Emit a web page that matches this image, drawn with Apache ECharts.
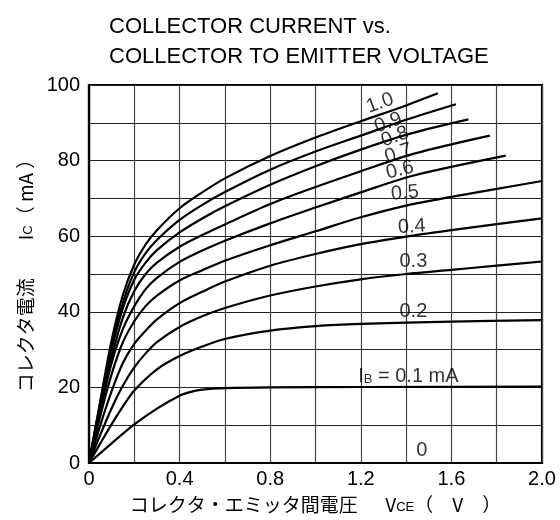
<!DOCTYPE html>
<html><head><meta charset="utf-8">
<script src="https://cdn.jsdelivr.net/npm/echarts@6/dist/echarts.min.js"></script>
<style>html,body{margin:0;padding:0;background:#fff}#c{width:560px;height:520px}</style>
</head><body><div id="c"></div>
<script>
// Base current levels (mA)
const ibLevels = ['0', '0.1', '0.2', '0.3', '0.4', '0.5', '0.6', '0.7', '0.8', '0.9', '1.0'];
// Vce (V) / Ic (mA) pairs for each base current
const curve_00 = [[0,0],[2.0,0]];
const curve_01 = [[0,0],[0.1,5.2],[0.2,10.2],[0.3,14.4],[0.4,17.8],[0.45,18.8],[0.5,19.4],[0.6,19.8],[0.8,20.0],[1.2,20.1],[2.0,20.2]];
const curve_02 = [[0,0],[0.05,5.2],[0.1,10.3],[0.15,15],[0.2,19.2],[0.3,24.8],[0.4,28.3],[0.5,30.8],[0.6,32.8],[0.8,35],[1.0,36.2],[1.2,36.8],[1.6,37.4],[2.0,37.8]];
const curve_03 = [[0,0],[0.05,7.5],[0.1,14.5],[0.15,20.5],[0.2,25.3],[0.25,29],[0.3,32],[0.4,36],[0.5,38.8],[0.6,41],[0.8,44.3],[1.0,46.7],[1.2,48.6],[1.4,50],[1.6,51.1],[1.8,52.2],[2.0,53.3]];
const curve_04 = [[0,0],[0.05,10],[0.1,19],[0.15,26.5],[0.2,31.5],[0.25,35],[0.3,38],[0.4,42.3],[0.5,45.3],[0.6,48],[0.8,52.2],[1.0,55.3],[1.2,57.9],[1.4,59.9],[1.6,61.6],[1.8,63.2],[2.0,64.7]];
const curve_05 = [[0,0],[0.05,12.5],[0.1,23.5],[0.15,32],[0.2,37.5],[0.25,41.5],[0.3,44.3],[0.4,48.3],[0.5,51],[0.6,53.5],[0.8,57.6],[1.0,61.3],[1.2,65],[1.4,68.1],[1.6,70.4],[1.8,72.5],[2.0,74.6]];
const curve_06 = [[0,0],[0.05,14],[0.1,26.5],[0.15,35.5],[0.2,41.5],[0.25,46],[0.3,49],[0.4,53.2],[0.5,56.2],[0.6,58.8],[0.8,63.4],[1.0,67.6],[1.2,71.6],[1.43,76],[1.84,81.3]];
const curve_07 = [[0,0],[0.05,14.5],[0.1,28],[0.15,38.5],[0.2,45.5],[0.25,50],[0.3,53],[0.4,57.2],[0.5,60.3],[0.6,63.1],[0.8,68.5],[1.0,73],[1.2,77.2],[1.44,81.9],[1.77,86.6]];
const curve_08 = [[0,0],[0.05,15.5],[0.1,30],[0.15,41],[0.2,48.5],[0.25,53],[0.3,56.3],[0.4,61],[0.5,64.7],[0.6,67.9],[0.8,73.6],[1.0,78.5],[1.2,82.9],[1.41,87],[1.675,90.9]];
const curve_09 = [[0,0],[0.05,16],[0.1,31],[0.15,42.5],[0.2,50.5],[0.25,55.5],[0.3,59],[0.4,64.3],[0.5,68.3],[0.6,71.7],[0.8,77.6],[1.0,82.4],[1.2,86.6],[1.4,90.8],[1.62,94.9]];
const curve_10 = [[0,0],[0.05,16.5],[0.1,32.5],[0.15,44.5],[0.2,52.5],[0.25,57.8],[0.3,61.6],[0.4,67.4],[0.5,71.6],[0.6,75.3],[0.8,81.2],[1.0,86.1],[1.2,90.4],[1.4,94.6],[1.54,97.8]];
const curves = [curve_00, curve_01, curve_02, curve_03, curve_04, curve_05, curve_06, curve_07, curve_08, curve_09, curve_10];
// Axis ticks
const xTickLabels = ['0', '0.4', '0.8', '1.2', '1.6', '2.0'];
const yTickLabels = ['0', '20', '40', '60', '80', '100'];

const FONT = 'Liberation Sans, Arial, sans-serif';
const CJK = 'Noto Sans CJK JP, Liberation Sans, sans-serif';
const chart = echarts.init(document.getElementById('c'), null, {renderer: 'canvas'});

const lineSeries = curves.map((d, i) => ({
  type: 'line', name: ibLevels[i], data: d, showSymbol: false, symbol: 'none',
  smooth: 0.3,
  lineStyle: {color: '#000', width: 2.2}, z: 5, silent: true
}));

// Curve annotation anchors (in data units) and rotation
const labelSpec = [
  {t: '1.0', at: [1.285, 95.2], r: 20},
  {t: '0.9', at: [1.321, 90.0], r: 20},
  {t: '0.8', at: [1.351, 86.3], r: 20},
  {t: '0.7', at: [1.366, 81.9], r: 18},
  {t: '0.6', at: [1.373, 77.5], r: 14},
  {t: '0.5', at: [1.395, 71.4], r: 5},
  {t: '0.4', at: [1.425, 62.5], r: 3},
  {t: '0.3', at: [1.432, 53.3], r: 0},
  {t: '0.2', at: [1.432, 40.0], r: 0},
  {t: '{i|I}{s|B}{i| = 0.1 mA}', at: [1.41, 22.8], r: 0},
  {t: '0', at: [1.469, 3.4], r: 0}
];

const labelSeries = {
  type: 'scatter', symbolSize: 0, z: 10, silent: true,
  data: labelSpec.map(s => ({
    value: s.at,
    label: {show: true, position: 'inside', formatter: s.t, rotate: s.r,
      color: '#000', fontFamily: FONT, fontSize: 20,
      rich: {i: {fontSize: 20, fontFamily: FONT, color: '#000'},
             s: {fontSize: 13, fontFamily: FONT, color: '#000', padding: [6, 0, 0, 0]}}}
  }))
};

const option = {
  backgroundColor: '#fff',
  animation: false,
  title: {
    text: 'COLLECTOR CURRENT vs.\nCOLLECTOR TO EMITTER VOLTAGE',
    left: 104, top: 7,
    textStyle: {fontFamily: FONT, fontSize: 22, fontWeight: 'normal', color: '#000', lineHeight: 30}
  },
  grid: {left: 89, right: 18, top: 85, bottom: 57, show: true, borderColor: '#000', borderWidth: 2.2,
    backgroundColor: 'transparent', containLabel: false, outerBoundsMode: 'none'},
  xAxis: {
    type: 'value', min: 0, max: 2.0, interval: 0.2,
    axisLine: {show: true, lineStyle: {color: '#000', width: 2.2}},
    axisTick: {show: false},
    splitLine: {show: true, lineStyle: {color: '#444', width: 1.2}},
    axisLabel: {
      margin: 6, color: '#000', fontFamily: FONT, fontSize: 20,
      formatter: v => { const k = Math.round(v * 10); return k % 4 === 0 ? xTickLabels[k / 4] : ''; }
    },
    name: '{j|コレクタ・エミッタ間電圧　  V}{s|CE}{j|（　V　）}',
    nameLocation: 'middle', nameGap: 32,
    nameTextStyle: {color: '#000',
      rich: {j: {fontSize: 19, fontFamily: CJK, color: '#000'},
             s: {fontSize: 13, fontFamily: FONT, color: '#000', padding: [6, 0, 0, 0]}}}
  },
  yAxis: {
    type: 'value', min: 0, max: 100, interval: 10,
    axisLine: {show: true, lineStyle: {color: '#000', width: 2.2}},
    axisTick: {show: false},
    splitLine: {show: true, lineStyle: {color: '#222', width: 1.2}},
    axisLabel: {
      margin: 9, color: '#000', fontFamily: FONT, fontSize: 20,
      formatter: v => (Math.round(v) % 20 === 0 ? yTickLabels[Math.round(v) / 20] : '')
    },
    name: '{j|コレクタ電流　　I}{s|C}{j|（ mA ）}',
    nameLocation: 'middle', nameRotate: 90, nameGap: 54,
    nameTextStyle: {color: '#000', padding: [0, 0, 0, 6],
      rich: {j: {fontSize: 19, fontFamily: CJK, color: '#000'},
             s: {fontSize: 13, fontFamily: FONT, color: '#000', padding: [6, 0, 0, 0]}}}
  },
  series: lineSeries.concat([labelSeries])
};
chart.setOption(option);
</script></body></html>
